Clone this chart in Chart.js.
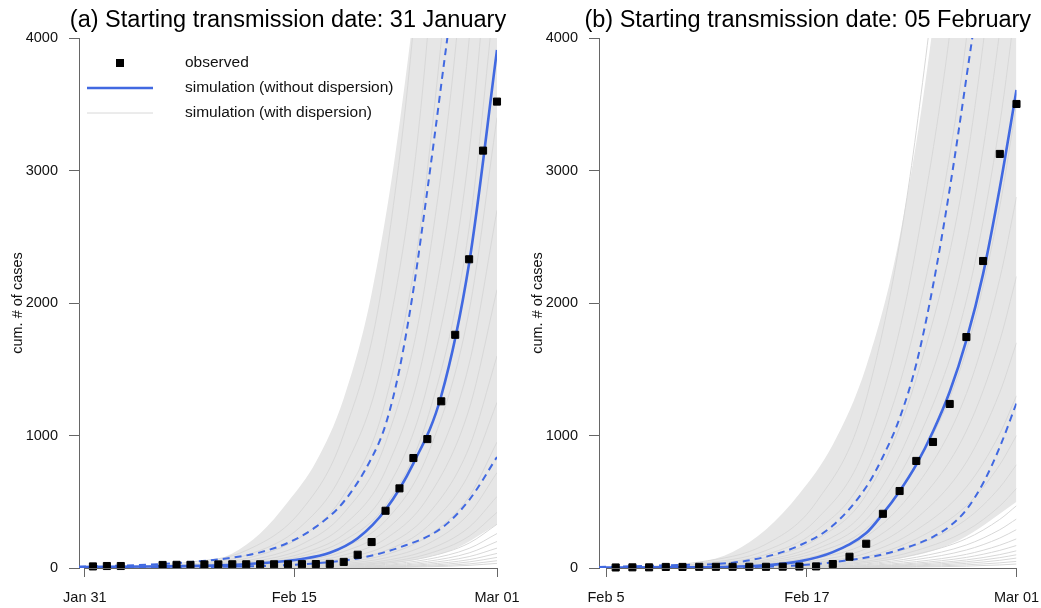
<!DOCTYPE html>
<html>
<head>
<meta charset="utf-8">
<title>Starting transmission date</title>
<script src="https://cdn.jsdelivr.net/npm/chart.js@4.4.0/dist/chart.umd.min.js"></script>
<style>
  html, body { margin: 0; padding: 0; background: #fff; }
  #wrap { position: relative; width: 1041px; height: 608px; overflow: hidden; }
  #wrap canvas { position: absolute; top: 0; }
  #chart-a { left: 0; }
  #chart-b { left: 520px; }
</style>
</head>
<body>
<div id="wrap">
  <canvas id="chart-a" width="520" height="608"></canvas>
  <canvas id="chart-b" width="521" height="608"></canvas>
</div>
<script>
// ---- panel (a): days counted from 31 January ----
const titleA = '(a) Starting transmission date: 31 January';
const tickDaysA = [0.42, 15.45, 30];
const tickLabelsA = ['Jan 31', 'Feb 15', 'Mar 01'];

const obsDaysA = [1, 2, 3, 6, 7, 8, 9, 10, 11, 12, 13, 14, 15, 16, 17, 18, 19, 20, 21, 22, 23, 24, 25, 26, 27, 28, 29, 30];
const obsA = [12, 15, 15, 23, 24, 24, 27, 27, 28, 28, 28, 28, 28, 29, 30, 31, 46, 100, 196, 432, 601, 830, 973, 1258, 1760, 2330, 3150, 3520];

const solidDaysA = [0, 5, 10, 13, 16, 18, 20, 22, 24, 26, 28, 30];
const solidA = [8, 11, 20, 36, 68, 115, 225, 440, 790, 1300, 2300, 3910];

const dashUpDaysA = [0, 5, 8, 11, 13, 15, 17, 19, 21, 22, 23, 24, 25, 26, 27, 30];
const dashUpA = [10, 25, 45, 78, 118, 190, 310, 500, 830, 1080, 1500, 2100, 2850, 3650, 4500, 8000];

const dashLoDaysA = [0, 5, 10, 14, 17, 20, 23, 26, 28, 30];
const dashLoA = [2, 4, 9, 18, 35, 72, 155, 300, 513, 838];

// outline of the dense grey fan
const fanDaysA = [0, 6, 9, 11, 13, 15, 17, 19, 21, 23, 25, 27, 30];
const fanTopA = [0, 8, 40, 110, 260, 500, 800, 1280, 2070, 3350, 5200, 8000, 14000];
const fanBottomA = [0, 0, 1, 2, 4, 6, 9, 15, 25, 44, 82, 145, 330];

// single simulation runs (with dispersion)
const simDaysA = [0, 8, 12, 16, 19, 22, 25, 28, 30];
const simA = [
  [0, 44, 132, 440, 1010, 2310, 5500, 12540, 22000],
  [0, 32, 96, 320, 740, 1680, 4000, 9120, 16000],
  [0, 24, 72, 240, 550, 1260, 3000, 6840, 12000],
  [0, 18, 54, 180, 414, 945, 2250, 5130, 9000],
  [0, 14, 42, 140, 322, 735, 1750, 3990, 7000],
  [0, 11, 33, 110, 253, 578, 1375, 3135, 5500],
  [0, 9, 27, 90, 207, 473, 1125, 2565, 4500],
  [0, 7, 20, 68, 156, 357, 850, 1940, 3400],
  [0, 5, 16, 54, 124, 284, 675, 1540, 2700],
  [0, 4, 13, 42, 97, 220, 525, 1200, 2100],
  [0, 3, 10, 32, 74, 168, 400, 910, 1600],
  [0, 3, 8, 25, 58, 131, 312, 712, 1250],
  [0, 2, 6, 19, 44, 100, 238, 540, 950],
  [0, 1, 4, 14, 33, 76, 180, 410, 720],
  [0, 1, 3, 11, 25, 57, 135, 308, 540],
  [0, 1, 3, 8, 19, 44, 105, 240, 420],
  [0, 1, 2, 7, 15, 35, 82, 188, 330],
  [0, 1, 2, 5, 12, 27, 65, 148, 260],
  [0, 0, 1, 4, 9, 21, 50, 114, 200],
  [0, 0, 1, 3, 7, 16, 38, 86, 150],
  [0, 0, 1, 2, 5, 12, 28, 63, 110],
  [0, 0, 0, 2, 4, 8, 20, 46, 80],
  [0, 0, 0, 1, 3, 6, 14, 31, 55],
  [0, 0, 0, 1, 2, 4, 9, 20, 35]
];

// ---- panel (b): days counted from 5 February ----
const titleB = '(b) Starting transmission date: 05 February';
const tickDaysB = [0.42, 12.45, 25];
const tickLabelsB = ['Feb 5', 'Feb 17', 'Mar 01'];

const obsDaysB = [1, 2, 3, 4, 5, 6, 7, 8, 9, 10, 11, 12, 13, 14, 15, 16, 17, 18, 19, 20, 21, 22, 23, 24, 25];
const obsB = [4, 5, 5, 8, 8, 9, 9, 9, 9, 9, 10, 11, 12, 30, 85, 183, 409, 581, 808, 951, 1238, 1743, 2317, 3125, 3502];

const solidDaysB = [0, 4, 8, 10, 12, 14, 16, 17, 18, 19, 20, 21, 22, 23, 24, 25];
const solidB = [3, 5, 10, 20, 50, 120, 264, 410, 580, 780, 1030, 1330, 1720, 2220, 2870, 3608];

const dashUpDaysB = [0, 4, 8, 10, 12, 14, 16, 17, 18, 19, 20, 21, 22, 23, 25];
const dashUpB = [8, 20, 40, 85, 170, 320, 611, 840, 1130, 1540, 2130, 2860, 3700, 4600, 7000];

const dashLoDaysB = [0, 4, 8, 11, 13, 15, 17, 19, 20, 21, 22, 23, 24, 25];
const dashLoB = [1, 2, 6, 14, 30, 60, 103, 180, 235, 315, 440, 640, 913, 1245];

const fanDaysB = [0, 4, 6, 8, 10, 12, 14, 16, 18, 20, 22, 25];
const fanTopB = [0, 10, 40, 120, 290, 560, 930, 1520, 2500, 4100, 6500, 15000];
const fanBottomB = [0, 1, 1, 3, 6, 10, 18, 35, 70, 130, 240, 500];

const simDaysB = [0, 6, 10, 13, 16, 19, 22, 24, 25];
const simB = [
  [0, 45, 180, 495, 1275, 3300, 7050, 11700, 15000],
  [0, 33, 132, 363, 935, 2420, 5170, 8580, 11000],
  [0, 26, 102, 281, 723, 1870, 3995, 6630, 8500],
  [0, 20, 78, 215, 553, 1430, 3055, 5070, 6500],
  [0, 16, 62, 172, 442, 1144, 2444, 4056, 5200],
  [0, 13, 52, 142, 366, 946, 2021, 3354, 4300],
  [0, 11, 42, 116, 298, 770, 1645, 2730, 3500],
  [0, 8, 34, 92, 238, 616, 1316, 2184, 2800],
  [0, 7, 26, 73, 187, 484, 1034, 1716, 2200],
  [0, 5, 20, 56, 145, 374, 799, 1326, 1700],
  [0, 4, 16, 43, 111, 286, 611, 1014, 1300],
  [0, 3, 12, 33, 85, 220, 470, 780, 1000],
  [0, 2, 9, 26, 66, 172, 367, 608, 780],
  [0, 2, 7, 20, 51, 132, 282, 468, 600],
  [0, 1, 6, 16, 40, 103, 221, 367, 470],
  [0, 1, 4, 12, 31, 81, 174, 289, 370],
  [0, 1, 3, 10, 25, 64, 136, 226, 290],
  [0, 1, 3, 7, 19, 48, 103, 172, 220],
  [0, 1, 2, 6, 14, 37, 80, 133, 170],
  [0, 0, 2, 4, 11, 29, 61, 101, 130],
  [0, 0, 1, 3, 9, 22, 47, 78, 100],
  [0, 0, 1, 2, 6, 16, 35, 58, 75],
  [0, 0, 1, 2, 4, 11, 24, 39, 50],
  [0, 0, 0, 1, 3, 7, 14, 23, 30]
];

const yMax = 4000;
const yStep = 1000;
const yTitle = 'cum. # of cases';
const legendLabels = ['observed', 'simulation (without dispersion)', 'simulation (with dispersion)'];

// ---- styles ----
const GREY = '#d8d8d8';
const BAND = '#e6e6e6';
const BLUE = '#4169e1';
const AXIS = '#666666';
const INK = '#111111';
const FONT = '"Liberation Sans", Arial, Helvetica, sans-serif';

Chart.defaults.font.family = FONT;
Chart.defaults.color = INK;

function pts(xs, ys) {
    return ys.map((y, i) => ({ x: xs[i], y: y }));
}

function buildDatasets(p) {
    const ds = [];
    // grey fan outline, filled
    ds.push({
        label: 'fan', data: pts(p.fanDays, p.fanTop),
        borderColor: 'rgba(0,0,0,0)', backgroundColor: BAND, fill: '+1',
        pointRadius: 0, cubicInterpolationMode: 'monotone', order: 10
    });
    ds.push({
        label: 'fan-bottom', data: pts(p.fanDays, p.fanBottom),
        borderColor: 'rgba(0,0,0,0)', fill: false,
        pointRadius: 0, cubicInterpolationMode: 'monotone', order: 11
    });
    p.sim.forEach(run => {
        ds.push({
            label: legendLabels[2], data: pts(p.simDays, run),
            borderColor: GREY, borderWidth: 1, fill: false,
            pointRadius: 0, cubicInterpolationMode: 'monotone', order: 5
        });
    });
    [[p.dashUpDays, p.dashUp], [p.dashLoDays, p.dashLo]].forEach(([xs, ys]) => {
        ds.push({
            label: 'bounds', data: pts(xs, ys),
            borderColor: BLUE, borderWidth: 2, borderDash: [7, 5], fill: false,
            pointRadius: 0, cubicInterpolationMode: 'monotone', order: 2
        });
    });
    ds.push({
        label: legendLabels[1], data: pts(p.solidDays, p.solid),
        borderColor: BLUE, borderWidth: 2.6, fill: false,
        pointRadius: 0, cubicInterpolationMode: 'monotone', order: 1
    });
    ds.push({
        label: legendLabels[0], data: pts(p.obsDays, p.obs),
        showLine: false, pointStyle: 'rect', pointRadius: 5,
        backgroundColor: '#000', borderColor: '#000', borderWidth: 1,
        clip: false, order: 0
    });
    return ds;
}

// R-like axis line, panel title and legend
const panelDecor = {
    id: 'panelDecor',
    afterDraw(chart, args, opts) {
        const ctx = chart.ctx;
        const area = chart.chartArea;
        const xs = chart.scales.x;
        const ticks = xs.ticks;
        const x0 = xs.getPixelForValue(ticks[0].value);
        const x1 = xs.getPixelForValue(ticks[ticks.length - 1].value);
        ctx.save();
        ctx.strokeStyle = AXIS;
        ctx.lineWidth = 1;
        ctx.beginPath();
        ctx.moveTo(x0, area.bottom + 0.5);
        ctx.lineTo(x1, area.bottom + 0.5);
        ctx.stroke();

        ctx.fillStyle = '#000';
        ctx.font = '23.5px ' + FONT;
        ctx.textAlign = 'center';
        ctx.textBaseline = 'middle';
        ctx.fillText(opts.title, (area.left + area.right) / 2, 21);

        if (opts.legend) {
            const find = lbl => chart.data.datasets.find(d => d.label === lbl);
            const rowY = [area.top + 25, area.top + 50, area.top + 75];
            const textX = area.left + 106;
            // observed
            const obs = find(legendLabels[0]);
            ctx.fillStyle = obs.backgroundColor;
            ctx.fillRect(area.left + 37, rowY[0] - 4, 8, 8);
            // lines
            [legendLabels[1], legendLabels[2]].forEach((lbl, i) => {
                const d = find(lbl);
                ctx.strokeStyle = d.borderColor;
                ctx.lineWidth = d.borderWidth;
                ctx.beginPath();
                ctx.moveTo(area.left + 8, rowY[i + 1]);
                ctx.lineTo(area.left + 74, rowY[i + 1]);
                ctx.stroke();
            });
            ctx.fillStyle = INK;
            ctx.font = '15.5px ' + FONT;
            ctx.textAlign = 'left';
            legendLabels.forEach((lbl, i) => ctx.fillText(lbl, textX, rowY[i]));
        }
        ctx.restore();
    }
};

function makeChart(id, p) {
    return new Chart(document.getElementById(id), {
        type: 'line',
        data: { datasets: buildDatasets(p) },
        plugins: [panelDecor],
        options: {
            responsive: false,
            animation: false,
            events: [],
            layout: { padding: { top: 38, right: p.padRight, bottom: 0, left: 0 } },
            plugins: {
                legend: { display: false },
                tooltip: { enabled: false },
                title: { display: false },
                panelDecor: { title: p.title, legend: p.legend }
            },
            scales: {
                x: {
                    type: 'linear', min: 0, max: p.xMax,
                    afterBuildTicks: s => { s.ticks = p.tickDays.map(v => ({ value: v })); },
                    ticks: {
                        autoSkip: false, maxRotation: 0, padding: 12, color: INK,
                        font: { size: 14.5 },
                        callback: (v, i) => p.tickLabels[i]
                    },
                    grid: { drawOnChartArea: false, drawTicks: true, tickLength: 9, color: AXIS },
                    border: { display: false },
                    afterFit: s => { s.height = 40; s.paddingLeft = 0; s.paddingRight = 0; }
                },
                y: {
                    min: 0, max: yMax,
                    ticks: {
                        stepSize: yStep, padding: 11, color: INK, font: { size: 14.5 },
                        callback: v => String(v)
                    },
                    grid: { drawOnChartArea: false, drawTicks: true, tickLength: 10, color: AXIS },
                    border: { display: true, color: AXIS, width: 1 },
                    title: { display: true, text: yTitle, color: INK, font: { size: 14.5 }, padding: { top: 9, bottom: 0 } },
                    afterFit: s => { s.width = 79; s.paddingTop = 0; s.paddingBottom = 0; }
                }
            }
        }
    });
}

makeChart('chart-a', {
    title: titleA, legend: true, xMax: 30, padRight: 23,
    tickDays: tickDaysA, tickLabels: tickLabelsA,
    obsDays: obsDaysA, obs: obsA,
    solidDays: solidDaysA, solid: solidA,
    dashUpDays: dashUpDaysA, dashUp: dashUpA,
    dashLoDays: dashLoDaysA, dashLo: dashLoA,
    fanDays: fanDaysA, fanTop: fanTopA, fanBottom: fanBottomA,
    simDays: simDaysA, sim: simA
});

makeChart('chart-b', {
    title: titleB, legend: false, xMax: 25, padRight: 24.5,
    tickDays: tickDaysB, tickLabels: tickLabelsB,
    obsDays: obsDaysB, obs: obsB,
    solidDays: solidDaysB, solid: solidB,
    dashUpDays: dashUpDaysB, dashUp: dashUpB,
    dashLoDays: dashLoDaysB, dashLo: dashLoB,
    fanDays: fanDaysB, fanTop: fanTopB, fanBottom: fanBottomB,
    simDays: simDaysB, sim: simB
});
</script>
</body>
</html>
